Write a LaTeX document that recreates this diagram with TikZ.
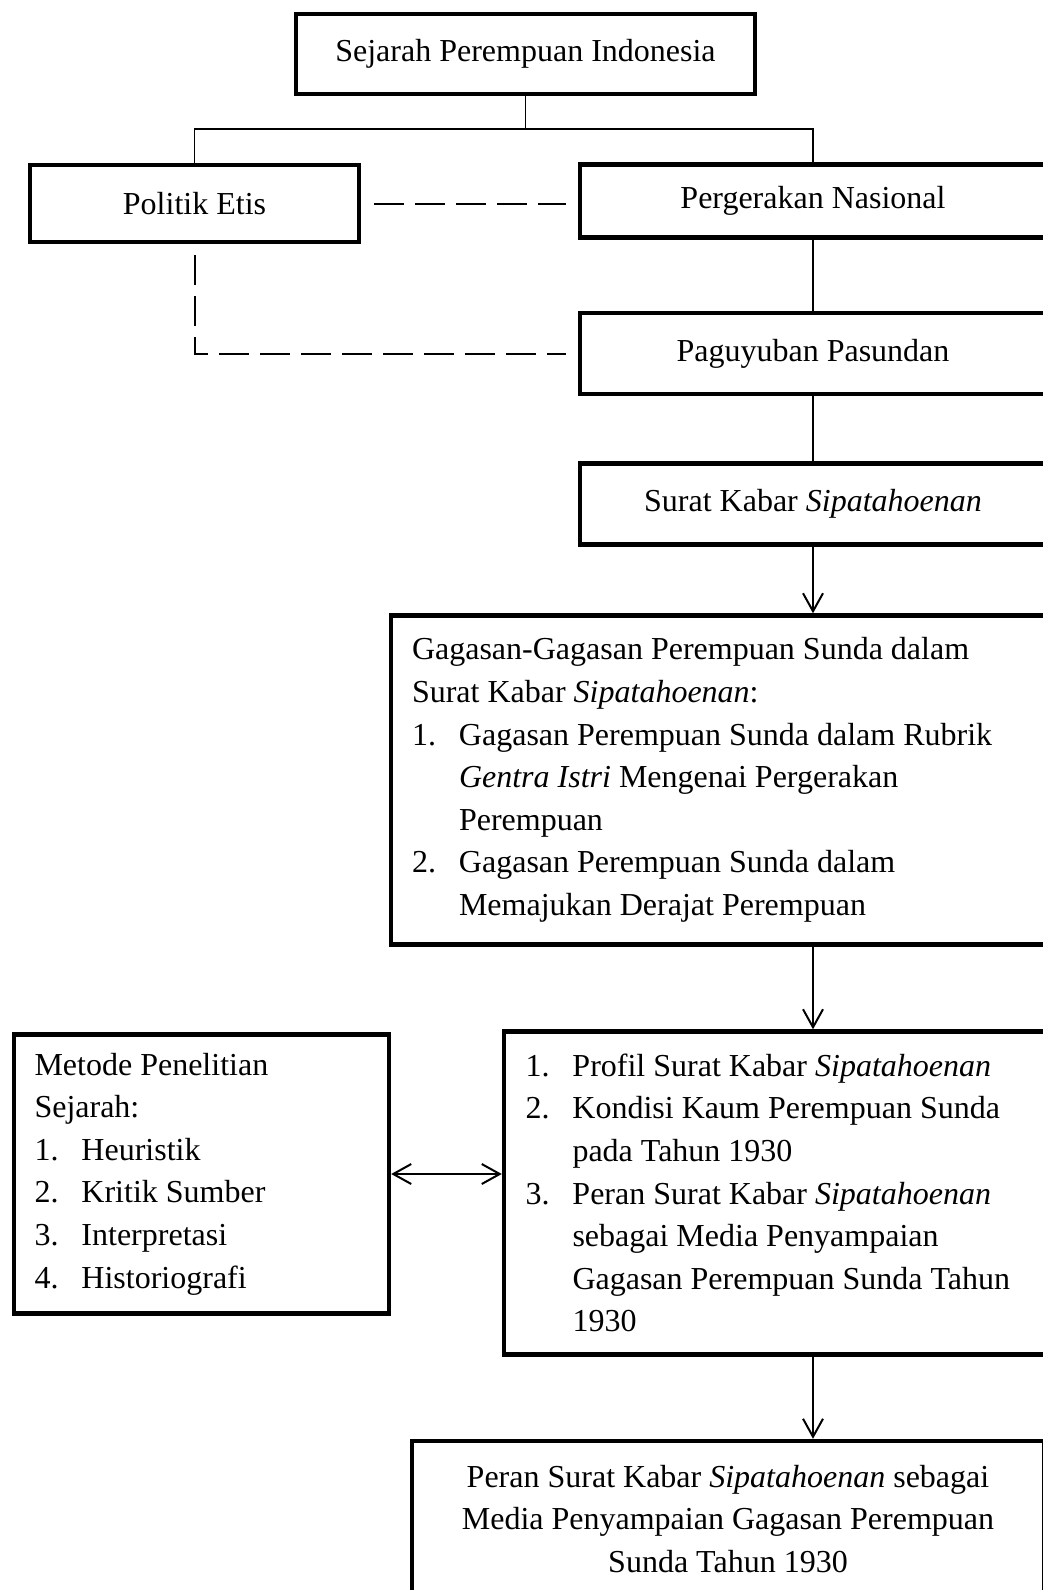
\documentclass[tikz,border=0pt]{standalone}
\usepackage{fontspec}
\setmainfont{Liberation Serif}
\usetikzlibrary{arrows.meta}

\newcommand{\itemno}[1]{\makebox[23.5pt][l]{#1}}
\newcommand{\itemgap}{\hspace*{23.5pt}}

\begin{document}
\begin{tikzpicture}[
   x=0.5pt, y=-0.5pt,
   box/.style={
       draw,
       line width=2.2pt,
       rectangle,
       inner sep=0pt,
       font=\fontsize{16}{21.3}\selectfont
     },
   listbox/.style={
       box,
       align=flush left,
       inner xsep=#1
     },
   link/.style={line width=0.7pt},
   flow/.style={line width=1pt, ->},
   dashline/.style={line width=1pt, dash pattern=on 15pt off 5.5pt},
   >={Straight Barb[length=9pt,width=10pt]}
  ]
  \useasboundingbox (0,0) rectangle (1043,1590);
  \clip (0,0) rectangle (1043,1590);

  % top of the tree
  \node[box, minimum width=229.5pt, minimum height=40pt] (sejarah) at (525.5,54) {Sejarah Perempuan Indonesia};
  \node[box, minimum width=164.5pt, minimum height=38.5pt] (politik) at (194.5,203.5) {Politik Etis};
  \node[box, minimum width=233pt, minimum height=36.5pt] (pergerakan) at (813,201) {Pergerakan Nasional};
  \node[box, minimum width=233pt, minimum height=40.5pt] (paguyuban) at (813,353.5) {Paguyuban Pasundan};
  \node[box, minimum width=233pt, minimum height=40.5pt] (surat) at (813,504) {Surat Kabar \textit{Sipatahoenan}};

  % boxes with lists
  \node[listbox=10.5pt, text width=306.5pt, minimum height=164.5pt] (gagasan) at (718.5,780) {%
     Gagasan-Gagasan Perempuan Sunda dalam\\
     Surat Kabar \textit{Sipatahoenan}:\\
     \itemno{1.}Gagasan Perempuan Sunda dalam Rubrik\\
     \itemgap\textit{Gentra Istri} Mengenai Pergerakan\\
     \itemgap Perempuan\\
     \itemno{2.}Gagasan Perempuan Sunda dalam\\
     \itemgap Memajukan Derajat Perempuan};
  \node[listbox=10.75pt, text width=249.5pt, minimum height=161.5pt] (hasil) at (775,1193) {%
     \itemno{1.}Profil Surat Kabar \textit{Sipatahoenan}\\
     \itemno{2.}Kondisi Kaum Perempuan Sunda\\
     \itemgap pada Tahun 1930\\
     \itemno{3.}Peran Surat Kabar \textit{Sipatahoenan}\\
     \itemgap sebagai Media Penyampaian\\
     \itemgap Gagasan Perempuan Sunda Tahun\\
     \itemgap 1930};
  \node[listbox=10.25pt, text width=167pt, minimum height=139.5pt] (metode) at (201.5,1174) {%
     Metode Penelitian\\
     Sejarah:\\
     \itemno{1.}Heuristik\\
     \itemno{2.}Kritik Sumber\\
     \itemno{3.}Interpretasi\\
     \itemno{4.}Historiografi};
  \node[box, align=flush center, minimum width=316pt, minimum height=78pt] (peran) at (728,1519) {%
     Peran Surat Kabar \textit{Sipatahoenan} sebagai\\
     Media Penyampaian Gagasan Perempuan\\
     Sunda Tahun 1930};

  % connectors
  \coordinate (fork) at (525.5,129);
  \draw[link] (sejarah.south) -- (fork);
  \draw[link] (politik.north) |- (fork) -| (pergerakan.north);
  \draw[link] (pergerakan.south) -- (paguyuban.north);
  \draw[link] (paguyuban.south) -- (surat.north);
  \draw[dashline, shorten <=6.5pt, shorten >=6pt] (politik.east) -- (politik.east -| pergerakan.west);
  \draw[dashline, shorten >=6pt] ([yshift=-5.5pt]politik.south) |- (paguyuban.west);
  \draw[flow] (surat.south) -- (surat.south |- gagasan.north);
  \draw[flow] (surat.south |- gagasan.south) -- (surat.south |- hasil.north);
  \draw[line width=1pt, <->] (metode.east) -- (metode.east -| hasil.west);
  \draw[flow] (surat.south |- hasil.south) -- (surat.south |- peran.north);
\end{tikzpicture}
\end{document}
